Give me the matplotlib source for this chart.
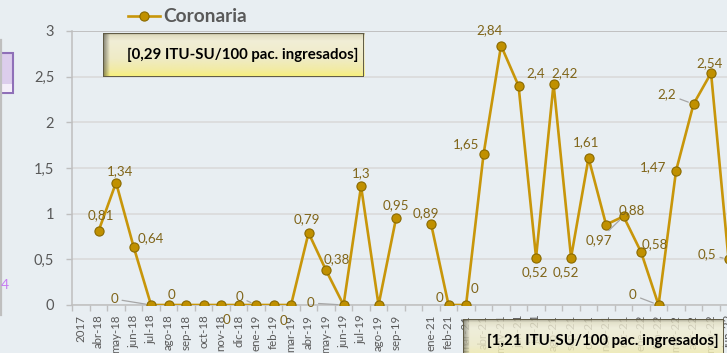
import numpy as np
import matplotlib
matplotlib.use("Agg")
import matplotlib.pyplot as plt
from matplotlib.lines import Line2D
from matplotlib.patches import Rectangle
from matplotlib.colors import to_rgb

# ---- data -------------------------------------------------------------
categories = [
    "2017", "abr-18", "may-18", "jun-18", "jul-18", "ago-18", "sep-18",
    "oct-18", "nov-18", "dic-18", "ene-19", "feb-19", "mar-19", "abr-19",
    "may-19", "jun-19", "jul-19", "ago-19", "sep-19", "", "ene-21",
    "feb-21", "mar-21", "abr-21", "may-21", "jun-21", "jul-21", "ago-21",
    "sep-21", "oct-21", "nov-21", "dic-21", "ene-22", "feb-22", "mar-22",
    "abr-22", "may-22", "jun-22",
]
coronaria = [
    np.nan, 0.81, 1.34, 0.64, 0, 0, 0,
    0, 0, 0, 0, 0, 0, 0.79,
    0.38, 0, 1.3, 0, 0.95, np.nan, 0.89,
    0, 0, 1.65, 2.84, 2.4, 0.52, 2.42,
    0.52, 1.61, 0.88, 0.97, 0.58, 0, 1.47,
    2.2, 2.54, 0.5,
]
y_ticks = [0, 0.5, 1, 1.5, 2, 2.5, 3]
y_tick_labels = ["0", "0,5", "1", "1,5", "2", "2,5", "3"]
series_name = "Coronaria"
note_2018_19 = "[0,29 ITU-SU/100 pac. ingresados]"
note_2021_22 = "[1,21 ITU-SU/100 pac. ingresados]"

# data-label placement: index -> (dx px, dy px, leader line)
label_pos = {
    1: (2, 16, False), 2: (4, 11, False), 3: (17, 8, False),
    4: (-37, 6, True), 5: (3, 10, False), 8: (5, -15, False),
    10: (-17, 8, True), 12: (-8, -16, False), 13: (-2, 14, False),
    14: (11, 11, False), 15: (-33, 2, True), 16: (0, 13, False),
    18: (0, 13, False), 20: (-5, 11, False), 21: (-9, 7, False),
    22: (8, 16, False), 23: (-17, 10, False), 24: (-12, 15, False),
    25: (17, 13, False), 26: (-1, -15, False), 27: (11, 11, False),
    28: (-5, -15, False), 29: (-2, 16, False), 30: (26, 14, False),
    31: (-25, -24, True), 32: (14, 8, False), 33: (-26, 10, True),
    34: (-23, 4, False), 35: (-27, 10, True), 36: (-2, 10, False),
    37: (-22, 5, True),
}

# ---- style ------------------------------------------------------------
W, H = 727, 353
BG = "#E8EEF2"
LINE_C = "#C8960A"
FACE_C = "#C09000"
EDGE_C = "#8A6A00"
LABEL_C = "#7F6418"
AXIS_C = "#BFBFBF"
GRID_C = "#D9D9D9"
TEXT_C = "#595959"
FONT = "Lato"

plt.rcParams["font.family"] = [FONT, "DejaVu Sans"]

fig = plt.figure(figsize=(W / 100, H / 100), dpi=100)
fig.patch.set_facecolor(BG)


def px_rect(x0, y0, x1, y1):
    """Figure-fraction rectangle from pixel corners (origin top-left)."""
    return [x0 / W, 1 - y1 / H, (x1 - x0) / W, (y1 - y0) / H]


step = 17.5
n_slots = 39
ax = fig.add_axes(px_rect(72.3, 31, 72.3 + n_slots * step, 305))
ax.set_facecolor(BG)

x = np.arange(len(categories))
ax.set_xlim(-0.5, n_slots - 0.5)
ax.set_ylim(0, 3)

# gridlines and axes
ax.set_yticks(y_ticks)
ax.set_yticklabels(y_tick_labels)
ax.yaxis.grid(True, color=GRID_C, lw=1.1, zorder=0)
ax.axhline(3, color=AXIS_C, lw=1.3, zorder=1)
ax.set_axisbelow(True)
for side in ("top", "right"):
    ax.spines[side].set_visible(False)
for side in ("left", "bottom"):
    ax.spines[side].set_color(AXIS_C)
    ax.spines[side].set_linewidth(1.1)

ax.tick_params(axis="y", which="major", length=4, width=1, color=AXIS_C,
               labelsize=10.5, labelcolor=TEXT_C, pad=9)
ax.set_xticks(x)
ax.set_xticklabels(categories, rotation=90, fontsize=8.3, color=TEXT_C)
ax.set_xticks(np.arange(-0.5, len(categories) + 0.5), minor=True)
ax.tick_params(axis="x", which="major", length=0, pad=7)
ax.tick_params(axis="x", which="minor", length=4, width=1, color=AXIS_C)

# series
line, = ax.plot(x, coronaria, color=LINE_C, lw=1.9, marker="o", ms=6.6,
                mfc=FACE_C, mec=EDGE_C, mew=0.8, label=series_name,
                zorder=3)

# data labels
for i, (dx, dy, leader) in label_pos.items():
    v = coronaria[i]
    txt = f"{v:g}".replace(".", ",")
    kw = {}
    if leader:
        kw["arrowprops"] = dict(arrowstyle="-", color="#A6A6A6", lw=0.9,
                                shrinkA=1, shrinkB=4)
    ax.annotate(txt, (i, v), xytext=(dx, dy), textcoords="offset pixels",
                ha="center", va="center", color=LABEL_C, fontsize=9.6,
                zorder=4, annotation_clip=False, **kw)

# legend
fig.legend([line], [series_name], loc="center left",
           bbox_to_anchor=(128 / W, 1 - 17 / H), frameon=False,
           prop=dict(family=FONT, weight="bold", size=13.8),
           labelcolor=TEXT_C, handlelength=1.65, handletextpad=0.2,
           borderpad=0, borderaxespad=0, numpoints=1)


def bevel_box(x0, y0, x1, y1, text, text_x, alpha=1.0):
    """Cream/yellow bevelled label box drawn in its own small axes."""
    bx = fig.add_axes(px_rect(x0, y0, x1, y1))
    bx.set_axis_off()
    h, w = 60, 300
    stops = [(0.0, "#9C9880"), (0.07, "#E2DEC2"), (0.2, "#F1EED6"),
             (0.6, "#EFEBC6"), (0.85, "#F2EBA6"), (1.0, "#F8F07E")]
    t = np.linspace(0, 1, h)
    pos = [s[0] for s in stops]
    cols = np.array([to_rgb(s[1]) for s in stops])
    grad = np.stack([np.interp(t, pos, cols[:, k]) for k in range(3)], -1)
    img = np.repeat(grad[:, None, :], w, axis=1)
    # darker shading along the left edge
    edge = np.clip(np.linspace(0, 1, w) / 0.025, 0, 1)
    shade = 0.55 + 0.45 * edge
    img = img * shade[None, :, None]
    bx.imshow(img, aspect="auto", extent=(0, 1, 0, 1), alpha=alpha,
              interpolation="bilinear")
    bx.add_patch(Rectangle((0, 0), 1, 1, transform=bx.transAxes,
                           fill=False, ec="#5F5A44", lw=1.4))
    bx.set_xlim(0, 1)
    bx.set_ylim(0, 1)
    bx.text((text_x - x0) / (x1 - x0), 0.5, text, ha="left", va="center",
            fontsize=10.8, fontweight="bold", color="black",
            transform=bx.transAxes)
    return bx


bevel_box(102.5, 33, 364, 76.5, note_2018_19, text_x=127)
bevel_box(463, 319, 724, 363, note_2021_22, text_x=487, alpha=0.82)

# edge of the neighbouring chart on the left
fig.add_artist(Line2D([1.5 / W, 1.5 / W], [1 - 40 / H, 1 - 315 / H],
                      color=AXIS_C, lw=1.6))
fig.add_artist(Rectangle((-0.01, 1 - 93 / H), 12.7 / W + 0.01, 40 / H,
                         transform=fig.transFigure, fc="#DCCDEC",
                         ec="#8F70B8", lw=1.5))
fig.add_artist(Rectangle((0, 1 - 92 / H), 11.5 / W, 8 / H,
                         transform=fig.transFigure, fc="#F4EEF9",
                         ec="none"))
fig.text(5 / W, 1 - 285 / H, "4", color="#C77DF3", fontsize=10,
         ha="center", va="center")

fig.savefig("out.png", dpi=100, facecolor=BG)
